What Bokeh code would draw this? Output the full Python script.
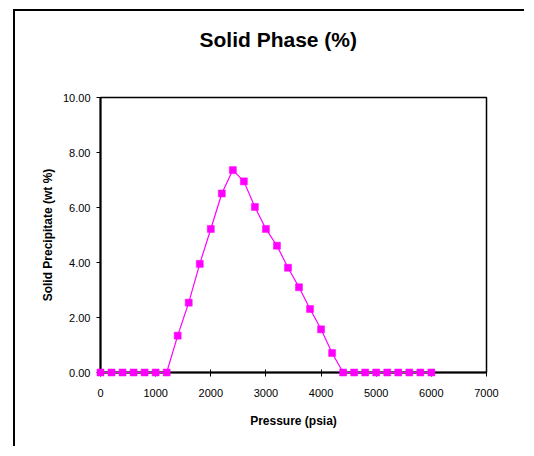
from bokeh.plotting import figure
from bokeh.models import FixedTicker, PrintfTickFormatter, Range1d, LinearAxis
from bokeh.embed import file_html
from bokeh.resources import INLINE

# ---- data ----
pressure_psia = [0, 200, 400, 600, 800, 1000, 1200, 1400, 1600, 1800, 2000,
                 2200, 2400, 2600, 2800, 3000, 3200, 3400, 3600, 3800, 4000,
                 4200, 4400, 4600, 4800, 5000, 5200, 5400, 5600, 5800, 6000]
solid_wt_pct = [0.0, 0.0, 0.0, 0.0, 0.0, 0.0, 0.0, 1.34, 2.54, 3.95, 5.22,
                6.51, 7.36, 6.95, 6.02, 5.22, 4.61, 3.81, 3.10, 2.31, 1.57,
                0.71, 0.0, 0.0, 0.0, 0.0, 0.0, 0.0, 0.0, 0.0, 0.0]
x_ticks = [0, 1000, 2000, 3000, 4000, 5000, 6000, 7000]
y_ticks = [0, 2, 4, 6, 8, 10]

title_text = "Solid Phase (%)"
x_label = "Pressure (psia)"
y_label = "Solid Precipitate (wt %)"

FONT = "Liberation Sans"
W, H = 511, 437

p = figure(width=W, height=H, output_backend="svg", toolbar_location=None,
           x_range=Range1d(0, 7000), y_range=Range1d(0, 10),
           min_border_left=85, min_border_right=40,
           min_border_top=86, min_border_bottom=76,
           title=title_text)

# chart-area border: left and top edges (the rest runs off the page)
p.styles = {"margin-left": "13px", "margin-top": "9px",
            "border-left": "2px solid black", "border-top": "2px solid black"}

p.background_fill_color = "white"
p.border_fill_color = "white"
p.outline_line_color = "black"
p.outline_line_width = 1.5
p.grid.visible = False

xax = p.below[0]
yax = p.left[0]

for ax in (xax, yax):
    ax.axis_line_color = "black"
    ax.axis_line_width = 2
    ax.major_tick_line_color = "black"
    ax.major_tick_line_width = 1
    ax.minor_tick_line_color = None
    ax.major_label_text_font = FONT
    ax.major_label_text_font_size = "11px"
    ax.major_label_text_color = "black"
    ax.axis_label_text_font = FONT
    ax.axis_label_text_font_size = "12px"
    ax.axis_label_text_font_style = "bold"
    ax.axis_label_text_color = "black"

xax.ticker = FixedTicker(ticks=x_ticks)
xax.major_tick_in = 3
xax.major_tick_out = 4
xax.major_label_standoff = 12
xax.axis_label = x_label
xax.axis_label_standoff = 14

yax.ticker = FixedTicker(ticks=y_ticks)
yax.formatter = PrintfTickFormatter(format="%.2f")
yax.major_tick_in = 0
yax.major_tick_out = 4
yax.major_label_standoff = 6
yax.axis_label = y_label
yax.axis_label_standoff = 5

# invisible spacer above the frame (one hidden tick) so the title sits higher
spacer = LinearAxis(ticker=FixedTicker(ticks=[3500]), major_tick_out=38, major_tick_in=0,
                    major_label_standoff=0, axis_line_color=None,
                    major_tick_line_color=None, minor_tick_line_color=None,
                    minor_tick_out=0, minor_tick_in=0,
                    major_label_overrides={3500: "\u00a0"},
                    major_label_text_font_size="1px")
p.add_layout(spacer, "above")

p.title.text_font = FONT
p.title.text_font_size = "21px"
p.title.text_font_style = "bold"
p.title.text_color = "black"
p.title.align = "left"
p.title.offset = 99
p.title.standoff = 10

line_r = p.line(pressure_psia, solid_wt_pct, line_color="#FF00FF", line_width=1.2)
pts = p.scatter(pressure_psia, solid_wt_pct, marker="square", size=7,
                fill_color="#FF00FF", line_color="#FF00FF", line_width=0.5)
line_r.level = "overlay"
pts.level = "overlay"

open("out.html", "w").write(file_html(p, INLINE))
